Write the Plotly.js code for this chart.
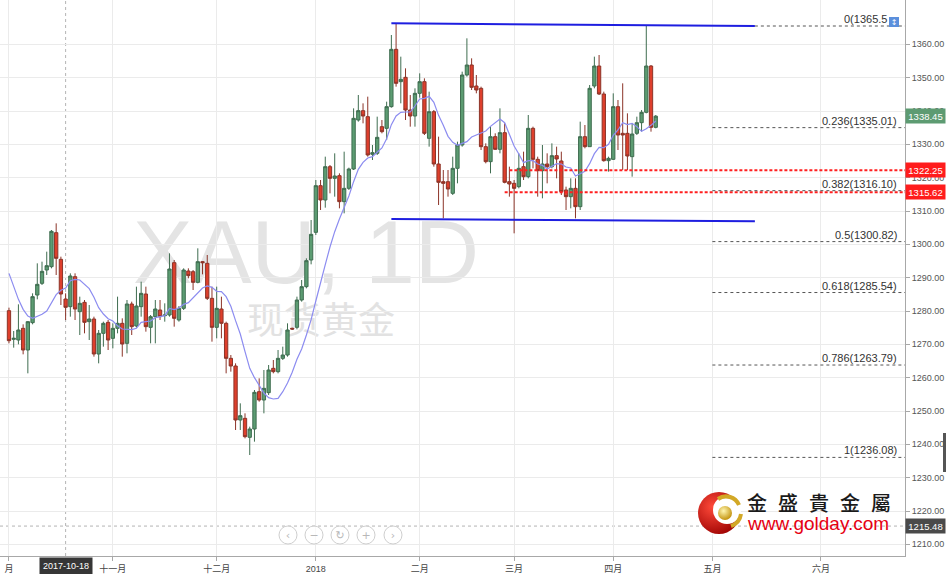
<!DOCTYPE html>
<html><head><meta charset="utf-8">
<script src="https://cdn.plot.ly/plotly-3.0.1.min.js"></script>
<style>
html,body{margin:0;padding:0;background:#fff;}
#wrap{position:relative;width:946px;height:574px;overflow:hidden;background:#fff;}
#wm{position:absolute;left:0;top:0;z-index:0;pointer-events:none;}
#chart{position:absolute;left:0;top:0;width:946px;height:574px;z-index:1;}
#ov{position:absolute;left:0;top:0;z-index:2;pointer-events:none;}
</style></head><body>
<div id="wrap">
<svg id="wm" width="905" height="556">
  <text x="306" y="283" text-anchor="middle" font-family="Liberation Sans, Arial, sans-serif" font-size="89" fill="#e4e4e4">XAU, 1D</text>
  <text x="321" y="334" text-anchor="middle" font-family="Noto Sans CJK SC" font-size="37" fill="#e2e2e2">现货黄金</text>
</svg>
<div id="chart"></div>
<svg id="ov" width="946" height="574">
  <defs>
    <radialGradient id="rg" cx="35%" cy="35%" r="75%"><stop offset="0" stop-color="#ff4a3a"/><stop offset="1" stop-color="#9a0000"/></radialGradient>
    <radialGradient id="gg" cx="40%" cy="35%" r="65%"><stop offset="0" stop-color="#fff6b0"/><stop offset="1" stop-color="#c49410"/></radialGradient>
  </defs>
  <g>
    <circle cx="288" cy="535" r="9" fill="rgba(255,255,255,0.7)" stroke="#cfcfcf"/>
    <circle cx="314" cy="535" r="9" fill="rgba(255,255,255,0.7)" stroke="#cfcfcf"/>
    <circle cx="340" cy="535" r="9" fill="rgba(255,255,255,0.7)" stroke="#cfcfcf"/>
    <circle cx="366" cy="535" r="9" fill="rgba(255,255,255,0.7)" stroke="#cfcfcf"/>
    <circle cx="393" cy="535" r="9" fill="rgba(255,255,255,0.7)" stroke="#cfcfcf"/>
    <g font-family="DejaVu Sans" font-size="11" fill="#b8b8b8" text-anchor="middle">
      <text x="288" y="539">‹</text><text x="314" y="539">−</text><text x="340" y="539">↻</text><text x="366" y="539">+</text><text x="393" y="539">›</text>
    </g>
  </g>
  <circle cx="719" cy="513" r="21" fill="url(#rg)"/>
  <circle cx="727" cy="510" r="14" fill="#fff"/>
  <path d="M 718 499 A 14 14 0 0 1 739 505" stroke="#d2a826" stroke-width="4" fill="none"/>
  <path d="M 741 514 A 15 15 0 0 1 731 526" stroke="#d2a826" stroke-width="4" fill="none"/>
  <circle cx="725" cy="513" r="7" fill="url(#gg)"/>
  <text x="747" y="511" font-family="Noto Sans CJK TC" font-size="20" font-weight="500" fill="#1a1a1a" letter-spacing="11">金盛貴金屬</text>
  <text x="748" y="530" font-family="Liberation Sans, Arial, sans-serif" font-size="19" fill="#e60012">www.golday.com</text>
  <rect x="943" y="433" width="3" height="39" fill="#555"/>
  <text x="894" y="25" font-family="DejaVu Sans" font-size="8" fill="#fff" text-anchor="middle">↕</text>
</svg>
</div>
<script>
const dates = [
'2017-10-02','2017-10-03','2017-10-04','2017-10-05','2017-10-06','2017-10-09','2017-10-10','2017-10-11','2017-10-12','2017-10-13','2017-10-16','2017-10-17','2017-10-18','2017-10-19','2017-10-20','2017-10-23','2017-10-24','2017-10-25','2017-10-26','2017-10-27','2017-10-30','2017-10-31',
'2017-11-01','2017-11-02','2017-11-03','2017-11-06','2017-11-07','2017-11-08','2017-11-09','2017-11-10','2017-11-13','2017-11-14','2017-11-15','2017-11-16','2017-11-17','2017-11-20','2017-11-21','2017-11-22','2017-11-23','2017-11-24','2017-11-27','2017-11-28','2017-11-29','2017-11-30',
'2017-12-01','2017-12-04','2017-12-05','2017-12-06','2017-12-07','2017-12-08','2017-12-11','2017-12-12','2017-12-13','2017-12-14','2017-12-15','2017-12-18','2017-12-19','2017-12-20','2017-12-21','2017-12-22','2017-12-25','2017-12-26','2017-12-27','2017-12-28','2017-12-29',
'2018-01-02','2018-01-03','2018-01-04','2018-01-05','2018-01-08','2018-01-09','2018-01-10','2018-01-11','2018-01-12','2018-01-15','2018-01-16','2018-01-17','2018-01-18','2018-01-19','2018-01-22','2018-01-23','2018-01-24','2018-01-25','2018-01-26','2018-01-29','2018-01-30','2018-01-31',
'2018-02-01','2018-02-02','2018-02-05','2018-02-06','2018-02-07','2018-02-08','2018-02-09','2018-02-12','2018-02-13','2018-02-14','2018-02-15','2018-02-16','2018-02-19','2018-02-20','2018-02-21','2018-02-22','2018-02-23','2018-02-26','2018-02-27','2018-02-28',
'2018-03-01','2018-03-02','2018-03-05','2018-03-06','2018-03-07','2018-03-08','2018-03-09','2018-03-12','2018-03-13','2018-03-14','2018-03-15','2018-03-16','2018-03-19','2018-03-20','2018-03-21','2018-03-22','2018-03-23','2018-03-26','2018-03-27','2018-03-28','2018-03-29',
'2018-04-02','2018-04-03','2018-04-04','2018-04-05','2018-04-06','2018-04-09','2018-04-10','2018-04-11','2018-04-12','2018-04-13'];

const open = [
1280.1,1271.5,1271.3,1274.8,1268.3,1276.5,1284.8,1288.3,1292.3,1293.3,
1303.5,1295.5,1283.6,1281.3,1290.3,1279.8,1282.6,1276.8,1277.6,1267.1,
1273.3,1276.6,1271.8,1274.8,1276.3,1270.3,1282.1,1275.5,1281.3,1285.1,
1275.1,1278.3,1280.3,1278.6,1278.8,1294.5,1277.3,1280.8,1292.0,1291.8,
1288.6,1294.8,1294.3,1283.8,1275.1,1280.6,1276.3,1265.8,1263.5,1247.3,
1247.8,1242.1,1244.6,1255.8,1253.3,1255.5,1262.8,1261.8,1265.8,1266.8,
1274.8,1275.1,1283.3,1287.3,1295.3,1303.6,1317.6,1313.3,1323.3,1319.8,
1320.6,1312.8,1316.8,1322.6,1337.3,1340.1,1338.3,1327.0,1327.3,1335.3,
1334.8,1341.3,1358.5,1348.8,1350.1,1340.3,1338.5,1345.3,1348.8,1331.8,
1339.8,1324.1,1318.8,1318.8,1315.3,1322.8,1329.8,1350.8,1353.8,1347.5,
1346.8,1329.3,1324.8,1332.3,1328.5,1333.5,1318.8,1318.3,1317.3,1323.3,
1320.3,1334.8,1325.5,1322.1,1324.1,1323.3,1326.6,1325.0,1316.3,1314.3,
1316.8,1311.3,1332.3,1329.3,1347.5,1353.5,1345.1,1325.1,1325.5,1341.3,
1333.3,1333.3,1326.3,1333.3,1336.5,1339.6,1353.5,1335.1];

const high = [
1281.0,1274.0,1282.0,1276.0,1277.0,1285.3,1294.3,1294.8,1297.8,1304.3,
1306.3,1296.3,1285.3,1291.3,1291.3,1284.3,1283.3,1281.8,1278.3,1274.3,
1276.8,1277.3,1276.3,1284.3,1277.8,1283.3,1282.8,1287.3,1288.8,1287.3,
1278.8,1283.3,1283.3,1282.3,1297.3,1295.3,1281.5,1292.8,1292.8,1292.3,
1298.8,1295.0,1296.8,1287.3,1287.3,1284.3,1276.8,1266.8,1264.3,1252.3,
1249.3,1245.3,1256.3,1259.8,1262.3,1263.8,1265.3,1268.3,1269.3,1276.3,
1275.0,1284.3,1289.3,1295.8,1307.3,1319.3,1319.3,1326.3,1323.8,1327.3,
1321.3,1327.8,1323.0,1340.8,1344.8,1342.3,1344.3,1329.8,1338.3,1337.3,
1342.8,1362.8,1366.3,1356.3,1352.8,1344.8,1346.8,1351.3,1349.8,1345.8,
1340.3,1332.3,1322.3,1322.3,1326.3,1330.8,1351.8,1361.8,1355.8,1350.8,
1347.3,1330.3,1335.3,1333.3,1340.8,1336.3,1323.3,1319.3,1327.3,1327.8,
1338.8,1335.3,1326.3,1329.8,1327.3,1330.3,1329.3,1327.8,1317.3,1319.8,
1319.8,1336.8,1335.8,1347.8,1356.3,1356.8,1345.8,1326.3,1345.3,1343.3,
1348.3,1339.3,1336.3,1338.3,1340.3,1365.5,1353.8,1338.8];

const low = [
1270.3,1269.0,1270.0,1267.0,1261.3,1276.0,1283.5,1287.8,1290.8,1292.8,
1290.8,1281.8,1277.3,1278.3,1277.3,1272.8,1273.3,1271.3,1266.3,1264.3,
1269.3,1268.3,1268.8,1273.3,1266.3,1267.3,1272.8,1275.0,1278.3,1273.8,
1270.3,1270.3,1277.3,1276.8,1278.3,1275.3,1276.8,1280.3,1289.8,1286.3,
1288.3,1291.0,1283.3,1270.8,1271.8,1271.8,1261.3,1261.8,1244.3,1244.3,
1241.8,1236.8,1240.8,1252.8,1249.3,1254.8,1261.3,1261.3,1265.3,1266.3,
1274.3,1274.5,1282.8,1286.8,1294.0,1302.8,1310.3,1311.0,1315.3,1314.3,
1310.8,1309.3,1316.3,1322.3,1336.8,1336.3,1326.3,1325.3,1326.8,1333.3,
1331.3,1341.0,1347.3,1342.3,1337.3,1335.3,1335.3,1344.0,1332.8,1329.3,
1323.3,1311.8,1307.8,1314.3,1314.8,1318.3,1329.3,1350.3,1346.3,1345.3,
1328.3,1324.3,1321.3,1328.3,1327.3,1318.3,1314.3,1303.3,1316.8,1319.3,
1319.8,1322.8,1314.3,1313.8,1318.3,1322.8,1319.8,1314.8,1310.3,1310.8,
1307.8,1310.3,1328.8,1329.3,1346.8,1344.8,1324.8,1321.8,1325.3,1328.3,
1322.3,1322.3,1320.3,1332.8,1333.8,1339.3,1333.8,1334.8];

const close = [
1271.1,1271.8,1274.3,1268.3,1276.8,1284.3,1288.0,1291.9,1293.6,1303.9,
1295.8,1285.1,1281.1,1290.5,1280.6,1282.3,1276.6,1277.6,1267.1,1273.3,
1276.3,1271.3,1274.8,1276.3,1270.1,1282.1,1275.3,1281.5,1285.3,1275.3,
1278.3,1280.6,1278.3,1278.8,1292.6,1277.8,1280.8,1292.3,1290.6,1288.6,
1294.8,1294.5,1283.8,1275.1,1280.8,1276.3,1265.8,1263.5,1247.3,1248.6,
1242.3,1244.6,1255.6,1253.3,1256.8,1262.3,1261.8,1265.8,1266.8,1274.3,
1274.6,1283.3,1287.3,1295.1,1303.0,1317.6,1313.3,1323.3,1319.8,1320.5,
1312.8,1316.8,1322.6,1337.8,1340.1,1338.5,1326.8,1327.5,1332.1,1333.8,
1341.3,1358.5,1348.3,1349.5,1340.3,1338.5,1345.3,1348.8,1333.3,1339.8,
1324.1,1318.6,1318.3,1316.6,1322.8,1329.8,1350.8,1353.8,1347.1,1346.3,
1329.3,1324.8,1332.3,1328.5,1333.5,1318.6,1318.1,1316.8,1322.8,1320.3,
1334.8,1325.5,1322.1,1324.1,1323.3,1326.6,1325.6,1315.8,1314.3,1316.8,
1311.3,1332.3,1329.3,1346.8,1353.5,1345.1,1325.1,1325.8,1341.3,1332.8,
1332.8,1326.5,1333.1,1336.5,1339.6,1353.5,1335.1,1338.45];

const ma = [
1291.3,1287.5,1283.5,1280.5,1278.5,1277.8,1278.3,1279.0,1280.0,
1282.4,1284.9,1286.2,1286.9,1289.1,1289.5,1289.3,1288.1,1286.7,1284.1,
1281.0,1279.1,1277.7,1277.0,1275.6,1274.6,1274.6,1274.4,1274.8,1276.6,
1276.8,1277.0,1278.0,1278.3,1278.6,1280.8,1280.4,1280.9,1282.0,1282.5,
1283.9,1285.5,1286.9,1287.5,1287.1,1285.9,1285.8,1284.3,1281.4,1277.1,
1273.1,1267.8,1262.8,1260.0,1257.8,1255.4,1254.0,1253.6,1253.8,1255.8,
1258.4,1261.6,1265.5,1268.6,1272.8,1277.4,1283.0,1288.1,1293.9,1299.2,
1303.8,1307.6,1311.0,1314.5,1318.8,1322.5,1324.6,1325.9,1326.3,1327.6,
1328.9,1331.7,1335.9,1338.5,1339.6,1339.7,1339.7,1341.5,1343.6,1343.8,
1344.4,1342.6,1338.7,1335.7,1332.4,1330.6,1329.7,1330.3,1330.8,1332.2,
1332.8,1333.3,1334.0,1335.4,1336.6,1337.6,1336.5,1333.2,1329.5,1327.1,
1324.5,1325.1,1325.1,1324.1,1323.7,1322.6,1323.4,1324.2,1324.1,1323.2,
1322.9,1320.5,1321.2,1321.9,1324.2,1327.2,1329.1,1329.0,1330.0,1332.7,
1334.3,1336.5,1335.9,1336.3,1335.3,1333.9,1334.7,1335.7,1337.0];

// axis ticks
const monthTicks = ['2017-10-02','2017-11-01','2017-12-01','2018-01-02','2018-02-01','2018-03-01','2018-04-02','2018-05-01','2018-06-01'];
const monthLabels = ['月','十一月','十二月','2018','二月','三月','四月','五月','六月'];
const priceTicks = [1210,1220,1230,1240,1250,1260,1270,1280,1290,1300,1310,1320,1330,1340,1350,1360];
const holidayBreaks = ['2018-01-01','2018-03-30'];

// drawn channel
const channelX = ['2018-01-24','2018-05-14'];
const channelTop = [1366.3,1365.5];
const channelBottom = [1307.6,1306.9];

// fibonacci levels
const fibLabels = ['0(1365.5','0.236(1335.01)','0.382(1316.10)','0.5(1300.82)','0.618(1285.54)','0.786(1263.79)','1(1236.08)'];
const fibPrices = [1365.5,1335.01,1316.10,1300.82,1285.54,1263.79,1236.08];
const fibStart = ['2018-05-14','2018-05-01','2018-05-01','2018-05-01','2018-05-01','2018-05-01','2018-05-01'];

// red support lines
const redLevels = [1322.25,1315.62];
const redStart = ['2018-02-28','2018-02-27'];

// price-axis tags
const tagValues = [1338.45,1322.25,1315.62,1215.48];
const tagColors = ['#5d9b72','#ff1c1c','#ff1c1c','#4a4a4a'];

const crossDate = '2017-10-18';
const crossPrice = 1215.48;

const noon = d => d + ' 12:00';
const xStart = '2017-09-28 14:24';
const xEnd = '2018-06-27 07:12';
const W = 905, H = 556;

const traces = [
 {type:'candlestick', x:dates.map(noon), open:open, high:high, low:low, close:close,
  increasing:{line:{color:'#3f6d50', width:1}, fillcolor:'#5c9c72'},
  decreasing:{line:{color:'#8c3428', width:1}, fillcolor:'#de3f2c'},
  whiskerwidth:0, hoverinfo:'skip'},
 {type:'scatter', mode:'lines', x:dates.map(noon), y:ma, line:{color:'#8c8cf0', width:1.2}, hoverinfo:'skip'},
 {type:'scatter', mode:'lines', x:channelX.map(noon), y:channelTop, line:{color:'#1e1ee0', width:2}, hoverinfo:'skip'},
 {type:'scatter', mode:'lines', x:channelX.map(noon), y:channelBottom, line:{color:'#1e1ee0', width:2}, hoverinfo:'skip'}
];

const shapes = [];
shapes.push({type:'line', xref:'x', yref:'paper', x0:noon(crossDate), x1:noon(crossDate), y0:0, y1:1, line:{color:'#b4b4b4', width:1, dash:'dot'}, layer:'below'});
shapes.push({type:'line', xref:'paper', yref:'y', x0:0, x1:1, y0:crossPrice, y1:crossPrice, line:{color:'#b4b4b4', width:1, dash:'dot'}, layer:'below'});
redLevels.forEach((v,i)=>shapes.push({type:'line', xref:'x', yref:'y', x0:noon(redStart[i]), x1:xEnd, y0:v, y1:v, line:{color:'#ff2020', width:2, dash:'3px,2px'}}));
fibPrices.forEach((v,i)=>shapes.push({type:'line', xref:'x', yref:'y', x0:noon(fibStart[i]), x1:xEnd, y0:v, y1:v, line:{color:'#555', width:1, dash:'dot'}}));
shapes.push({type:'rect', xref:'paper', yref:'paper', x0:889/W, x1:899/W, y0:1-27/H, y1:1-17/H, fillcolor:'#5b8fdc', line:{width:0}});

const annotations = [];
fibPrices.forEach((v,i)=>annotations.push({xref:'paper', yref:'y', x:(i===0?888:898)/W, y:v, xanchor:'right', yanchor:'bottom', text:fibLabels[i], showarrow:false, borderpad:0, font:{family:'Liberation Sans, Arial', size:11, color:'#333'}}));
tagValues.forEach((v,i)=>annotations.push({xref:'paper', yref:'y', x:1, y:v, xanchor:'left', yanchor:'middle', xshift:0, text:v.toFixed(2), showarrow:false, bgcolor:tagColors[i], width:37, height:12, borderpad:1, font:{family:'Liberation Sans, Arial', size:9.5, color:'#fff'}}));
annotations.push({xref:'x', yref:'paper', x:noon(crossDate), y:0, xanchor:'center', yanchor:'top', yshift:-1, text:crossDate, showarrow:false, bgcolor:'#363636', borderpad:3, font:{family:'Liberation Sans, Arial', size:9, color:'#fff'}});

const layout = {
 width:946, height:574,
 margin:{l:0, r:41, t:0, b:18, pad:0},
 paper_bgcolor:'rgba(0,0,0,0)', plot_bgcolor:'rgba(0,0,0,0)',
 showlegend:false,
 boxgap:0.3, boxgroupgap:0,
 font:{family:'Liberation Sans, Arial, Noto Sans CJK SC', size:9, color:'#444'},
 xaxis:{type:'date', range:[xStart, xEnd],
   rangebreaks:[{bounds:['sat','mon']},{values:holidayBreaks}],
   tickmode:'array', tickvals:monthTicks.map(noon), ticktext:monthLabels,
   showgrid:true, gridcolor:'#ebebeb', gridwidth:1, zeroline:false,
   showline:true, linecolor:'#a8a8a8', ticks:'outside', ticklen:4, tickcolor:'#a8a8a8',
   tickfont:{family:'Liberation Sans, Noto Sans CJK SC', size:9, color:'#444'},
   rangeslider:{visible:false}, fixedrange:true},
 yaxis:{side:'right', range:[1206.5,1373.3], tickmode:'array', tickvals:priceTicks, ticktext:priceTicks.map(v=>v.toFixed(2)),
   showgrid:true, gridcolor:'#ebebeb', zeroline:false,
   showline:true, linecolor:'#a8a8a8', ticks:'outside', ticklen:4, tickcolor:'#a8a8a8',
   tickfont:{family:'Liberation Sans, Arial', size:9, color:'#555'}, fixedrange:true},
 shapes:shapes, annotations:annotations
};
Plotly.newPlot('chart', traces, layout, {staticPlot:true, displayModeBar:false});
</script>
</body></html>
